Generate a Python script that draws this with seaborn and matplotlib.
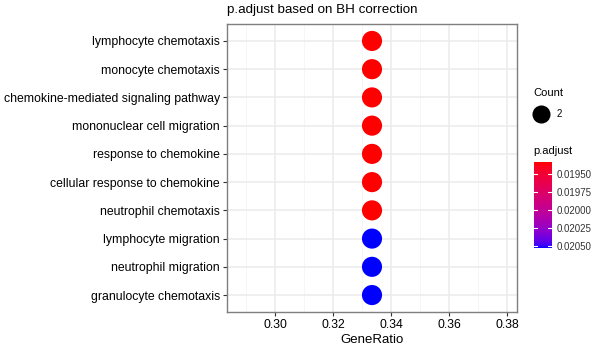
import numpy as np
import pandas as pd
import matplotlib
matplotlib.use("Agg")
import matplotlib.pyplot as plt
from matplotlib.colors import ListedColormap, Normalize
import seaborn as sns

# Enriched GO terms (top to bottom)
terms = [
    "lymphocyte chemotaxis",
    "monocyte chemotaxis",
    "chemokine-mediated signaling pathway",
    "mononuclear cell migration",
    "response to chemokine",
    "cellular response to chemokine",
    "neutrophil chemotaxis",
    "lymphocyte migration",
    "neutrophil migration",
    "granulocyte chemotaxis",
]
gene_ratio = [1/3, 1/3, 1/3, 1/3, 1/3, 1/3, 1/3, 1/3, 1/3, 1/3]
counts = [2, 2, 2, 2, 2, 2, 2, 2, 2, 2]
p_adjust = [0.01933, 0.01933, 0.01933, 0.01933, 0.01933, 0.01933, 0.01933,
            0.02053, 0.02053, 0.02053]
x_ticks = [0.30, 0.32, 0.34, 0.36, 0.38]
cbar_ticks = [0.01950, 0.01975, 0.02000, 0.02025, 0.02050]

df = pd.DataFrame({"Description": terms, "GeneRatio": gene_ratio,
                   "Count": counts, "p.adjust": p_adjust})


# red -> blue gradient interpolated in CIE Lab space
def _srgb_to_lab(rgb):
    c = np.asarray(rgb, float)
    c = np.where(c <= 0.04045, c / 12.92, ((c + 0.055) / 1.055) ** 2.4)
    m = np.array([[0.4124, 0.3576, 0.1805],
                  [0.2126, 0.7152, 0.0722],
                  [0.0193, 0.1192, 0.9505]])
    xyz = m @ c / np.array([0.95047, 1.0, 1.08883])
    f = np.where(xyz > 0.008856, np.cbrt(xyz), 7.787 * xyz + 16 / 116)
    return np.array([116 * f[1] - 16, 500 * (f[0] - f[1]), 200 * (f[1] - f[2])])


def _lab_to_srgb(lab):
    L, a, b = lab
    fy = (L + 16) / 116
    fx = fy + a / 500
    fz = fy - b / 200
    f = np.array([fx, fy, fz])
    xyz = np.where(f ** 3 > 0.008856, f ** 3, (f - 16 / 116) / 7.787)
    xyz = xyz * np.array([0.95047, 1.0, 1.08883])
    m = np.array([[3.2406, -1.5372, -0.4986],
                  [-0.9689, 1.8758, 0.0415],
                  [0.0557, -0.2040, 1.0570]])
    c = m @ xyz
    c = np.where(c <= 0.0031308, 12.92 * c, 1.055 * np.clip(c, 0, None) ** (1 / 2.4) - 0.055)
    return np.clip(c, 0, 1)


lab_r = _srgb_to_lab([1, 0, 0])
lab_b = _srgb_to_lab([0, 0, 1])
cmap = ListedColormap([_lab_to_srgb(lab_r + (lab_b - lab_r) * t)
                       for t in np.linspace(0, 1, 256)])
vmin, vmax = min(p_adjust), max(p_adjust)
norm = Normalize(vmin, vmax)

plt.rcParams["font.family"] = ["Liberation Sans", "DejaVu Sans"]

fig = plt.figure(figsize=(6, 3.5), dpi=100)
ax = fig.add_axes([227 / 600, 1 - 312 / 350, 290 / 600, 288 / 350])

ax.set_facecolor("white")
minor = [0.29, 0.31, 0.33, 0.35, 0.37]
for v in minor:
    ax.axvline(v, color="#F5F5F5", lw=0.6, zorder=0)
for v in x_ticks:
    ax.axvline(v, color="#EBEBEB", lw=1.1, zorder=0)
for i in range(len(terms)):
    ax.axhline(i, color="#EBEBEB", lw=1.1, zorder=0)

df["ypos"] = np.arange(len(terms))
sns.scatterplot(data=df, x="GeneRatio", y="ypos", hue="p.adjust",
                palette=cmap, hue_norm=norm, s=210, edgecolor="none",
                legend=False, ax=ax, zorder=3)

ax.set_xlim(1/3 - 0.05, 1/3 + 0.05)
ax.set_ylim(len(terms) - 1 + 0.6, -0.6)
ax.set_yticks(range(len(terms)))
ax.set_yticklabels(terms)
ax.set_xticks(x_ticks)
ax.set_xticklabels([f"{v:.2f}" for v in x_ticks])
ax.tick_params(axis="both", length=3, width=0.8, color="#333333",
               labelsize=8.8, labelcolor="black", pad=2)
ax.set_xlabel("GeneRatio", fontsize=9.5, labelpad=2)
ax.set_ylabel("")
for sp in ax.spines.values():
    sp.set_color("#7F7F7F")
    sp.set_linewidth(1.0)

fig.text(227 / 600, 1 - 10 / 350, "p.adjust based on BH correction",
         fontsize=9.6, ha="left", va="center")

# Count legend
fig.text(533 / 600, 1 - 93 / 350, "Count", fontsize=8, ha="left", va="center")
fig.lines.append(plt.Line2D([541 / 600], [1 - 114 / 350], marker="o", ms=12,
                            color="black", transform=fig.transFigure, figure=fig))
fig.text(557 / 600, 1 - 114 / 350, "2", fontsize=7, ha="left", va="center")

# p.adjust colourbar (low values at top)
fig.text(533 / 600, 1 - 151 / 350, "p.adjust", fontsize=8, ha="left", va="center")
cax = fig.add_axes([533.5 / 600, 1 - 248 / 350, 18 / 600, 86 / 350])
grad = np.linspace(vmin, vmax, 256).reshape(-1, 1)
cax.imshow(grad, aspect="auto", cmap=cmap, norm=norm,
           extent=[0, 1, vmax, vmin], origin="upper")
cax.set_ylim(vmax, vmin)
cax.set_xlim(0, 1)
for t in cbar_ticks:
    cax.plot([0, 0.2], [t, t], color="white", lw=0.8)
    cax.plot([0.8, 1], [t, t], color="white", lw=0.8)
cax.set_xticks([])
cax.yaxis.tick_right()
cax.set_yticks(cbar_ticks)
cax.set_yticklabels([f"{t:.5f}" for t in cbar_ticks])
cax.tick_params(axis="y", length=0, labelsize=7, pad=4, labelcolor="#333333")
for sp in cax.spines.values():
    sp.set_visible(False)

fig.savefig("out.png", dpi=100)
